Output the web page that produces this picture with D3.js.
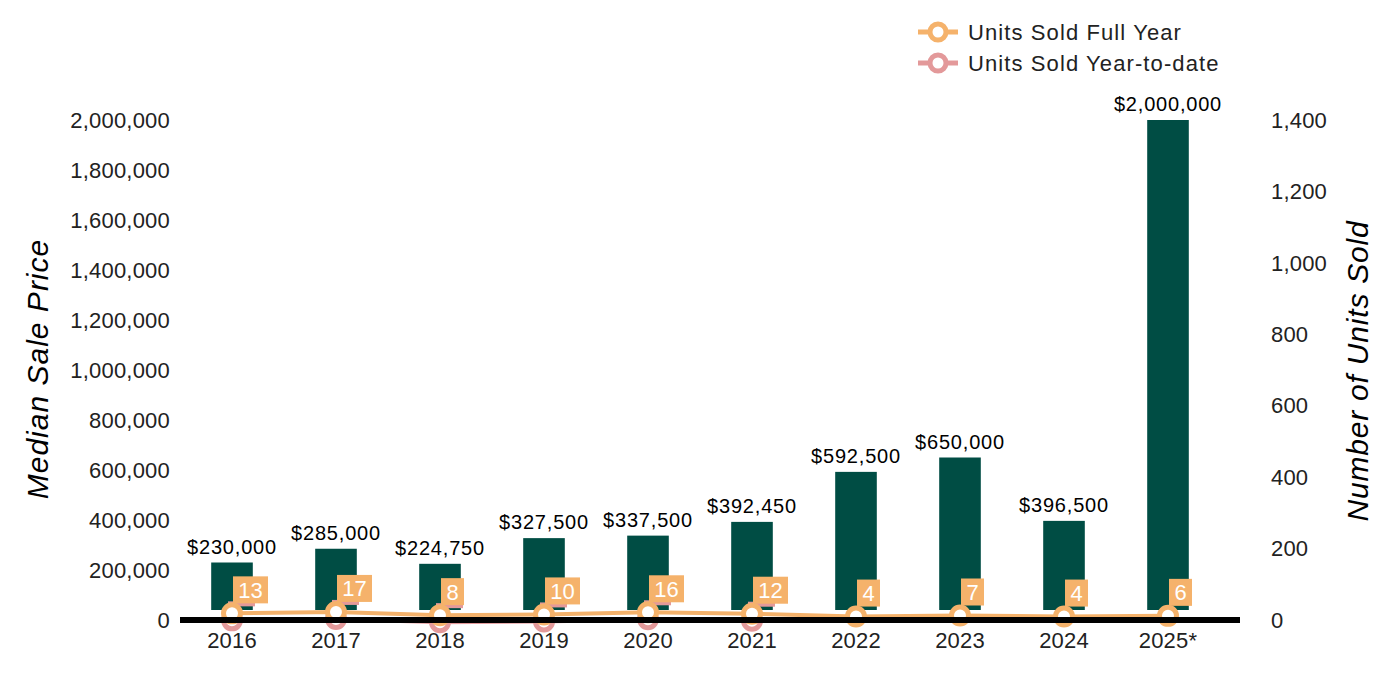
<!DOCTYPE html>
<html lang="en">
<head>
<meta charset="UTF-8">
<title>median sale price</title>
<script src="https://cdn.jsdelivr.net/npm/d3@7"></script>
<style>
    html, body { margin: 0; padding: 0; background: #fff; }
    text { font-family: "Liberation Sans", Arial, sans-serif; fill: #222; }
</style>
</head>
<body>
<div id="chart"></div>
<script>

    // data
    var years = ["2016", "2017", "2018", "2019", "2020", "2021", "2022", "2023", "2024", "2025*"];
    var medianPrice = [230000, 285000, 224750, 327500, 337500, 392450, 592500, 650000, 396500, 2000000];
    var unitsFullYear = [13, 17, 8, 10, 16, 12, 4, 7, 4, 6];
    var unitsYtd = [13, 17, 8, 10, 16, 12, null, null, null, null];
    var priceTicks = [0, 200000, 400000, 600000, 800000, 1000000, 1200000, 1400000, 1600000, 1800000, 2000000];
    var unitTicks = [0, 200, 400, 600, 800, 1000, 1200, 1400];

    var width = 1400, height = 700;
    var green = "#004d44", orange = "#f5b26b", pink = "#e3999a";

    var svg = d3.select("#chart").append("svg")
        .attr("width", width)
        .attr("height", height);

    // scales
    var x = d3.scaleBand().domain(years).range([180, 1220]);
    var y = d3.scaleLinear().domain([0, 2000000]).range([620, 120]);
    var yU = d3.scaleLinear().domain([0, 1400]).range([620, 120]);
    var cx = function(d) { return x(d) + x.bandwidth() / 2; };
    var barW = x.bandwidth() * 0.4;
    var barGap = 10;   // bars stop a little above the base line
    var fmt = d3.format(",");

    // left axis labels
    svg.append("g").selectAll("text").data(priceTicks).enter().append("text")
        .attr("x", 170)
        .attr("y", function(d) { return y(d); })
        .attr("dy", "0.35em")
        .attr("text-anchor", "end")
        .style("font-size", "22px")
        .style("letter-spacing", "0.2px")
        .text(function(d) { return fmt(d); });

    // right axis labels
    svg.append("g").selectAll("text").data(unitTicks).enter().append("text")
        .attr("x", 1271)
        .attr("y", function(d) { return yU(d); })
        .attr("dy", "0.35em")
        .style("font-size", "22px")
        .style("letter-spacing", "0.2px")
        .text(function(d) { return fmt(d); });

    // axis titles
    svg.append("text")
        .attr("transform", "translate(48,369) rotate(-90)")
        .attr("text-anchor", "middle")
        .style("font-size", "30px")
        .style("font-style", "italic")
        .style("letter-spacing", "1px")
        .style("fill", "#000")
        .text("Median Sale Price");

    svg.append("text")
        .attr("transform", "translate(1368,371) rotate(-90)")
        .attr("text-anchor", "middle")
        .style("font-size", "30px")
        .style("font-style", "italic")
        .style("letter-spacing", "0.8px")
        .style("fill", "#000")
        .text("Number of Units Sold");

    // bars
    svg.append("g").selectAll("rect").data(years).enter().append("rect")
        .attr("x", function(d) { return cx(d) - barW / 2; })
        .attr("y", function(d, i) { return y(medianPrice[i]); })
        .attr("width", barW)
        .attr("height", function(d, i) { return y(0) - barGap - y(medianPrice[i]); })
        .attr("fill", green);

    svg.append("g").selectAll("text").data(years).enter().append("text")
        .attr("x", function(d) { return cx(d); })
        .attr("y", function(d, i) { return y(medianPrice[i]) - 9; })
        .attr("text-anchor", "middle")
        .style("font-size", "20px")
        .style("letter-spacing", "0.8px")
        .style("fill", "#000")
        .text(function(d, i) { return "$" + fmt(medianPrice[i]); });

    // x labels
    svg.append("g").selectAll("text").data(years).enter().append("text")
        .attr("x", function(d) { return cx(d); })
        .attr("y", 640)
        .attr("dy", "0.35em")
        .attr("text-anchor", "middle")
        .style("font-size", "22px")
        .style("letter-spacing", "0.2px")
        .text(function(d) { return d; });

    // year-to-date marker strip peeking out under the full year label
    svg.append("g").selectAll("rect").data(years.filter(function(d, i) { return unitsYtd[i] != null; }))
        .enter().append("rect")
        .attr("x", function(d) { return cx(d) - 4; })
        .attr("y", function(d) { return yU(unitsYtd[years.indexOf(d)]) - 14; })
        .attr("width", 27)
        .attr("height", 5)
        .attr("fill", pink);

    // full year label boxes
    var boxes = svg.append("g");
    years.forEach(function(d, i) {
        var s = String(unitsFullYear[i]);
        var w = s.length * 12 + 11;
        var bx = cx(d) + 1, by = yU(unitsFullYear[i]) - 12;
        boxes.append("rect")
            .attr("x", bx).attr("y", by - 27)
            .attr("width", w).attr("height", 27)
            .attr("fill", orange);
        boxes.append("text")
            .attr("x", bx + w / 2).attr("y", by - 13.5)
            .attr("dy", "0.36em")
            .attr("text-anchor", "middle")
            .style("font-size", "22px")
            .style("fill", "#fff")
            .text(s);
    });

    // lines
    var ytdShift = 5;
    var ytdPts = years.map(function(d, i) { return [cx(d), unitsYtd[i]]; })
        .filter(function(p) { return p[1] != null; });

    svg.append("path")
        .datum(ytdPts)
        .attr("fill", "none")
        .attr("stroke", pink)
        .attr("stroke-width", 4)
        .attr("d", d3.line().x(function(p) { return p[0]; }).y(function(p) { return yU(p[1]) + ytdShift; }));

    svg.append("g").selectAll("circle").data(ytdPts).enter().append("circle")
        .attr("cx", function(p) { return p[0]; })
        .attr("cy", function(p) { return yU(p[1]) + ytdShift; })
        .attr("r", 8.5)
        .attr("fill", "#fff")
        .attr("stroke", pink)
        .attr("stroke-width", 5);

    svg.append("path")
        .datum(years)
        .attr("fill", "none")
        .attr("stroke", orange)
        .attr("stroke-width", 4)
        .attr("d", d3.line().x(function(d) { return cx(d); }).y(function(d, i) { return yU(unitsFullYear[i]) - 2; }));

    svg.append("g").selectAll("circle").data(years).enter().append("circle")
        .attr("cx", function(d) { return cx(d); })
        .attr("cy", function(d, i) { return yU(unitsFullYear[i]) - 2; })
        .attr("r", 8.5)
        .attr("fill", "#fff")
        .attr("stroke", orange)
        .attr("stroke-width", 5);

    // base line
    svg.append("line")
        .attr("x1", 180).attr("x2", 1240)
        .attr("y1", y(0)).attr("y2", y(0))
        .attr("stroke", "#000")
        .attr("stroke-width", 6);

    // legend
    var legend = [["Units Sold Full Year", orange], ["Units Sold Year-to-date", pink]];
    var lg = svg.append("g").selectAll("g").data(legend).enter().append("g")
        .attr("transform", function(d, i) { return "translate(918," + (32 + i * 31) + ")"; });
    lg.append("line")
        .attr("x1", 0).attr("x2", 40)
        .attr("stroke", function(d) { return d[1]; })
        .attr("stroke-width", 5);
    lg.append("circle")
        .attr("cx", 20).attr("r", 8)
        .attr("fill", "#fff")
        .attr("stroke", function(d) { return d[1]; })
        .attr("stroke-width", 5);
    lg.append("text")
        .attr("x", 50)
        .attr("dy", "0.35em")
        .style("font-size", "22px")
        .style("letter-spacing", "1.1px")
        .text(function(d) { return d[0]; });

</script>
</body>
</html>
